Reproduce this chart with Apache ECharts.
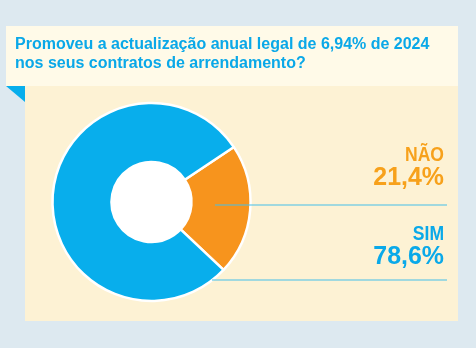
<!DOCTYPE html>
<html><head><meta charset="utf-8">
<script src="https://cdn.jsdelivr.net/npm/echarts@6/dist/echarts.min.js"></script>
<style>html,body{margin:0;padding:0;background:#dde9f0;}#c{width:476px;height:348px;}</style>
</head><body><div id="c"></div>
<script>
const titleLines = ['Promoveu a actualização anual legal de 6,94% de 2024', 'nos seus contratos de arrendamento?'];
const categories = ['NÃO', 'SIM'];
const values = [21.4, 78.6];
const sliceColors = ['#f7941d', '#08aeec'];
const labelColors = ['#f7a11b', '#0aa9e9'];

const FONT = "'Liberation Sans', Arial, sans-serif";
const chart = echarts.init(document.getElementById('c'), null, {renderer: 'canvas'});

// layout of the annotation block for each category (style, not data)
const labelLayoutCfg = [
  {nameY: 156, valueY: 178, lineY: 205, lineX: 215},
  {nameY: 234.3, valueY: 257, lineY: 280, lineX: 212}
];
const fmt = v => String(v).replace('.', ',') + '%';

const graphics = [
  {type: 'rect', shape: {x: 6, y: 26, width: 452, height: 60}, style: {fill: '#fffae8'}, z: -10},
  {type: 'rect', shape: {x: 25, y: 86, width: 433, height: 235}, style: {fill: '#fdf2d4'}, z: -10},
  {type: 'polygon', shape: {points: [[6, 86], [25, 86], [25, 102]]}, style: {fill: '#08aeec'}, z: -10}
];
titleLines.forEach((t, i) => {
  graphics.push({type: 'text', x: 15, y: 44.5 + i * 19, z: 5,
    style: {text: t, x: 0, y: 0, fill: '#0aa8e8', font: 'bold 16px ' + FONT, align: 'left', verticalAlign: 'middle'}});
});
categories.forEach((c, i) => {
  const L = labelLayoutCfg[i];
  graphics.push({type: 'text', x: 444, y: L.nameY, scaleX: 0.9, z: 5,
    style: {text: c, x: 0, y: 0, fill: labelColors[i], font: 'bold 19.5px ' + FONT, align: 'right', verticalAlign: 'middle'}});
  graphics.push({type: 'text', x: 444, y: L.valueY, scaleX: 0.94, z: 5,
    style: {text: fmt(values[i]), x: 0, y: 0, fill: labelColors[i], font: 'bold 26.5px ' + FONT, align: 'right', verticalAlign: 'middle'}});
  graphics.push({type: 'line', z: 20, shape: {x1: L.lineX, y1: L.lineY, x2: 447, y2: L.lineY},
    style: {stroke: '#45bfe9', lineWidth: 1}});
});

chart.setOption({
  backgroundColor: '#dde9f0',
  animation: false,
  graphic: graphics,
  series: [
    {
      type: 'pie',
      center: [151.5, 202],
      radius: [40, 99],
      startAngle: 33.7,
      clockwise: true,
      silent: true,
      itemStyle: {borderColor: '#ffffff', borderWidth: 2.5},
      label: {show: false},
      labelLine: {show: false},
      data: categories.map((c, i) => ({
        name: c, value: values[i],
        itemStyle: {color: sliceColors[i]}
      }))
    },
    {
      type: 'pie',
      center: [151.5, 202],
      radius: [0, 40],
      silent: true,
      label: {show: false},
      labelLine: {show: false},
      itemStyle: {color: '#ffffff'},
      data: [{value: 1, name: 'hole'}]
    }
  ]
});
</script>
</body></html>
